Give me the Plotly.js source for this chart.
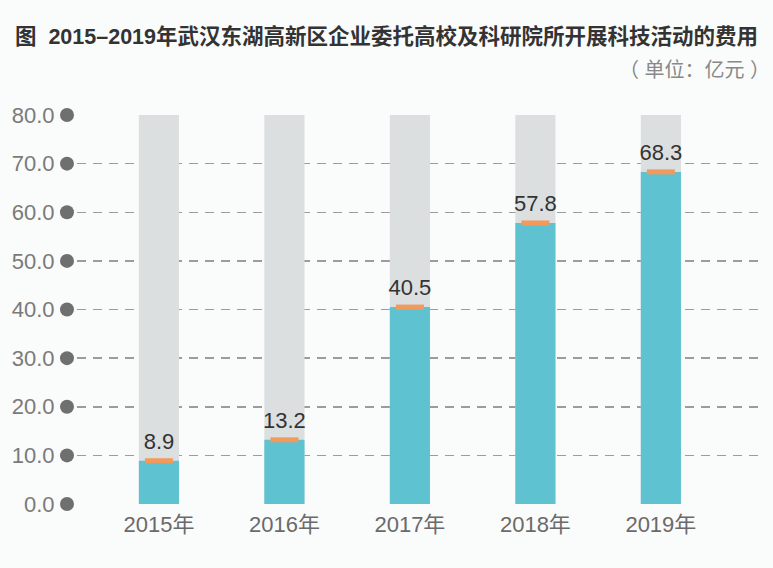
<!DOCTYPE html>
<html>
<head>
<meta charset="utf-8">
<script src="https://cdn.plot.ly/plotly-3.0.1.min.js"></script>
<style>
html,body{margin:0;padding:0;background:#fafbfb;}
#chart{width:773px;height:568px;}
</style>
</head>
<body>
<div id="chart"></div>
<script>
const categories = ['2015年','2016年','2017年','2018年','2019年'];
const values = [8.9, 13.2, 40.5, 57.8, 68.3];
const maxValues = [80, 80, 80, 80, 80];
const labels = ['8.9','13.2','40.5','57.8','68.3'];
const yTicks = [0,10,20,30,40,50,60,70,80];
const yTickText = ['0.0','10.0','20.0','30.0','40.0','50.0','60.0','70.0','80.0'];
const titleText = '图  2015\u20132019年武汉东湖高新区企业委托高校及科研院所开展科技活动的费用';
const unitText = '（ 单位：亿元 ）';

const FONT = '"Liberation Sans", "Noto Sans CJK SC", sans-serif';
const xIdx = categories.map((c, i) => i);

// plot geometry (pixels)
const W = 773, H = 568, ML = 55, MR = 13, MT = 115, MB = 64;
const PW = W - ML - MR;
const gridStart = (77 - ML) / PW;

const traces = [
  {
    type:'bar', x:xIdx, y:maxValues, width:0.32,
    marker:{color:'#dcdfe0'}, hoverinfo:'skip', showlegend:false
  },
  {
    type:'bar', x:xIdx, y:values, width:0.32,
    marker:{color:'#5fc2d0'}, hoverinfo:'skip', showlegend:false
  },
  {
    type:'scatter', mode:'markers', x:xIdx, y:values,
    marker:{symbol:'line-ew', size:20, line:{color:'#f19a5c', width:5}},
    hoverinfo:'skip', showlegend:false, cliponaxis:false
  },
  {
    type:'scatter', mode:'markers+text', x:xIdx, y:values, text:labels,
    textposition:'top center', marker:{size:9, color:'rgba(0,0,0,0)'},
    textfont:{family:FONT, size:22, color:'#333333'},
    hoverinfo:'skip', showlegend:false, cliponaxis:false
  },
  {
    type:'scatter', mode:'markers', xaxis:'x2', yaxis:'y2',
    x:yTicks.map(() => 0.545), y:yTicks,
    marker:{color:'#6f6f6f', size:14},
    hoverinfo:'skip', showlegend:false, cliponaxis:false
  }
];

const layout = {
  width:W, height:H,
  paper_bgcolor:'#fafbfb', plot_bgcolor:'rgba(0,0,0,0)',
  margin:{l:ML, r:MR, t:MT, b:MB},
  barmode:'overlay',
  showlegend:false,
  title:{text:titleText, x:0.5, xanchor:'center', y:0.935, yanchor:'middle',
         font:{family:FONT, size:21.5, color:'#333333', weight:'bold'}},
  xaxis:{
    type:'linear', range:[-0.653, 4.79], domain:[gridStart, 1], anchor:'y',
    tickvals:xIdx, ticktext:categories,
    showgrid:false, zeroline:false, showline:false,
    tickfont:{family:FONT, size:22, color:'#6a6a6a'},
    ticks:'outside', ticklen:1, tickcolor:'rgba(0,0,0,0)'
  },
  yaxis:{
    range:[0,80], tickvals:yTicks, ticktext:yTickText, anchor:'x',
    showgrid:true, gridcolor:'#9c9c9c', griddash:'9px,7px', gridwidth:1.5,
    zeroline:false, showline:false,
    ticks:'outside', ticklen:17, tickcolor:'rgba(0,0,0,0)',
    tickfont:{family:FONT, size:22, color:'#7a7a7a'}
  },
  xaxis2:{
    domain:[0, gridStart], range:[0,1], anchor:'y2', visible:false, fixedrange:true
  },
  yaxis2:{
    domain:[0,1], range:[0,80], anchor:'x2', visible:false, showgrid:false, fixedrange:true
  },
  annotations:[
    {text:unitText, xref:'paper', yref:'paper', x:1.0, xanchor:'right', xshift:12,
     y:(H-70-MB)/(H-MT-MB), yanchor:'middle', showarrow:false,
     font:{family:FONT, size:20, color:'#888888'}}
  ]
};

Plotly.newPlot('chart', traces, layout, {displayModeBar:false, staticPlot:true});
</script>
</body>
</html>
